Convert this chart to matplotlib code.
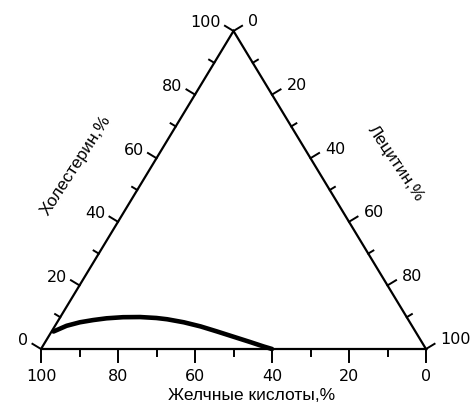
import numpy as np
import matplotlib
matplotlib.use("Agg")
import matplotlib.pyplot as plt

# ---- data (percent) ----
cholesterol = [5.5, 7.3, 8.4, 9.1, 9.65, 10.0, 10.05, 9.75, 9.35, 8.4, 7.1, 5.5, 3.85, 2.2, 0.8, 0.0]
lecithin = [0.5, 3.0, 5.9, 9.0, 12.2, 16.3, 20.7, 25.1, 28.1, 32.9, 37.9, 43.0, 48.1, 53.2, 57.4, 60.0]
bile_acids = [100 - c - l for c, l in zip(cholesterol, lecithin)]

tick_values = [0, 10, 20, 30, 40, 50, 60, 70, 80, 90, 100]
label_values = [0, 20, 40, 60, 80, 100]

title_bottom = "Желчные кислоты,%"
title_left = "Холестерин,%"
title_right = "Лецитин,%"

# ---- figure / scale ----
W, H, DPI = 474, 407, 100
SX, SY = 385.0, 318.0          # pixels per unit of cartesian ternary space
X0, Y0 = 41.0, 58.0            # pixel position of bottom-left corner (from left, from bottom)

fig = plt.figure(figsize=(W / DPI, H / DPI), dpi=DPI)
ax = fig.add_axes([0, 0, 1, 1])
ax.set_xlim(-X0 / SX, (W - X0) / SX)
ax.set_ylim(-Y0 / SY, (H - Y0) / SY)
ax.axis("off")


def tern(c, l):
    """cholesterol, lecithin (percent) -> cartesian"""
    c = np.asarray(c, float) / 100.0
    l = np.asarray(l, float) / 100.0
    return l + c / 2.0, c


def px(dx, dy):
    return dx / SX, dy / SY


# triangle
corners_c = [0, 0, 100, 0]
corners_l = [0, 100, 0, 0]
tx, ty = tern(corners_c, corners_l)
ax.plot(tx, ty, color="black", lw=1.6, solid_joinstyle="miter", solid_capstyle="butt")

# side normals (pixel space)
side = np.array([192.5, 318.0]); side /= np.linalg.norm(side)
n_left = np.array([-side[1], side[0]])
n_right = np.array([side[1], side[0]])
n_bottom = np.array([0.0, -1.0])

FS = 11.5
fam = ["DejaVu Sans"]

for v in tick_values:
    major = v in label_values
    # bottom axis: bile acids
    bx, by = tern(0, 100 - v)
    L = 13 if major else 7
    dx, dy = px(*(n_bottom * L))
    ax.plot([bx, bx + dx], [by, by + dy], color="black", lw=1.4)
    if major:
        ax.text(bx, by + dy - 7 / SY, str(v), ha="center", va="top", fontsize=FS, family=fam)
    # left axis: cholesterol
    lx, ly = tern(v, 0)
    L = 10 if major else 6
    dx, dy = px(*(n_left * L))
    ax.plot([lx, lx + dx], [ly, ly + dy], color="black", lw=1.4)
    if major:
        ox, oy = px(-4, 3)
        ax.text(lx + dx + ox, ly + dy + oy, str(v), ha="right", va="center", fontsize=FS, family=fam)
    # right axis: lecithin
    rx, ry = tern(100 - v, v)
    dx, dy = px(*(n_right * L))
    ax.plot([rx, rx + dx], [ry, ry + dy], color="black", lw=1.4)
    if major:
        ox, oy = px(6, 4)
        ax.text(rx + dx + ox, ry + dy + oy, str(v), ha="left", va="center", fontsize=FS, family=fam)

# curve
cx, cy = tern(cholesterol, lecithin)
ax.plot(cx, cy, color="black", lw=3.3, solid_capstyle="round", solid_joinstyle="round")

# axis titles (positions in pixel from top-left converted to data)
def at(xp, yp):
    return (xp - X0) / SX, (H - yp - Y0) / SY

tf = ["Liberation Sans", "DejaVu Sans"]
ax.text(*at(252, 396), title_bottom, ha="center", va="center", fontsize=12.5, family=tf)
ax.text(*at(76, 165), title_left, ha="center", va="center", rotation=57, fontsize=12.5, family=tf)
ax.text(*at(396, 163), title_right, ha="center", va="center", rotation=-56, fontsize=12.5, family=tf)

fig.savefig("out.png", dpi=DPI, facecolor="white")
